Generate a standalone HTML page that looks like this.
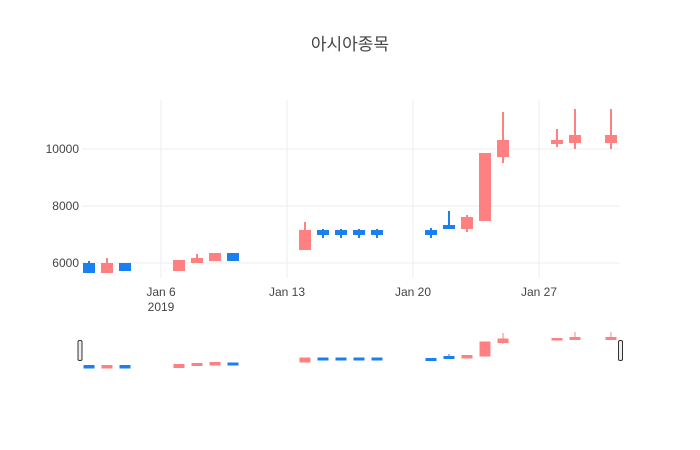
<!DOCTYPE html>
<html><head><meta charset="utf-8"><style>
body{margin:0;background:#fff;}
svg{display:block;font-family:"Liberation Sans","Noto Sans CJK KR",sans-serif;}
</style></head><body>
<svg width="700" height="450" viewBox="0 0 700 450">
<rect width="700" height="450" fill="#fff"/>
<text x="350" y="50" text-anchor="middle" font-size="17" fill="#444">아시아종목</text>
<g stroke="#eee" stroke-width="1">
<line x1="161" y1="100" x2="161" y2="278"/><line x1="287" y1="100" x2="287" y2="278"/>
<line x1="413" y1="100" x2="413" y2="278"/><line x1="539" y1="100" x2="539" y2="278"/>
<line x1="82" y1="263" x2="620" y2="263"/><line x1="82" y1="206" x2="620" y2="206"/>
<line x1="82" y1="149" x2="620" y2="149"/>
</g>
<g font-size="12" fill="#444" text-anchor="end">
<text x="79" y="267">6000</text><text x="79" y="210">8000</text><text x="79" y="153">10000</text>
</g>
<g font-size="12" fill="#444" text-anchor="middle">
<text x="161" y="296">Jan 6</text><text x="161" y="311">2019</text>
<text x="287" y="296">Jan 13</text><text x="413" y="296">Jan 20</text><text x="539" y="296">Jan 27</text>
</g>
<g stroke-width="2">
<!-- main candles -->
<g stroke="#1a7ff0" fill="#1a7ff0">
<line x1="89" y1="261" x2="89" y2="272"/><rect x="84" y="264" width="10" height="8"/>
<line x1="125" y1="264" x2="125" y2="270"/><rect x="120" y="264" width="10" height="6"/>
<line x1="233" y1="253" x2="233" y2="260"/><rect x="228" y="254" width="10" height="6"/>
<line x1="323" y1="229" x2="323" y2="238"/><rect x="318" y="231" width="10" height="3"/>
<line x1="341" y1="229" x2="341" y2="238"/><rect x="336" y="231" width="10" height="3"/>
<line x1="359" y1="229" x2="359" y2="238"/><rect x="354" y="231" width="10" height="3"/>
<line x1="377" y1="229" x2="377" y2="238"/><rect x="372" y="231" width="10" height="3"/>
<line x1="431" y1="228" x2="431" y2="238"/><rect x="426" y="231" width="10" height="3"/>
<line x1="449" y1="211" x2="449" y2="229"/><rect x="444" y="226" width="10" height="2"/>
</g>
<g stroke="#ff8080" fill="#ff8080">
<line x1="107" y1="258" x2="107" y2="273"/><rect x="102" y="264" width="10" height="8"/>
<line x1="179" y1="261" x2="179" y2="270"/><rect x="174" y="261" width="10" height="9"/>
<line x1="197" y1="254" x2="197" y2="262"/><rect x="192" y="259" width="10" height="3"/>
<line x1="215" y1="254" x2="215" y2="260"/><rect x="210" y="254" width="10" height="6"/>
<line x1="305" y1="222" x2="305" y2="249"/><rect x="300" y="231" width="10" height="18"/>
<line x1="467" y1="215" x2="467" y2="232"/><rect x="462" y="218" width="10" height="10"/>
<rect x="480" y="154" width="10" height="66"/>
<line x1="503" y1="112" x2="503" y2="163"/><rect x="498" y="141" width="10" height="15"/>
<line x1="557" y1="129" x2="557" y2="147"/><rect x="552" y="141" width="10" height="2"/>
<line x1="575" y1="109" x2="575" y2="149"/><rect x="570" y="136" width="10" height="6"/>
<line x1="611" y1="109" x2="611" y2="149"/><rect x="606" y="136" width="10" height="6"/>
</g>
</g>
<!-- range slider -->
<g stroke-width="1">
<g stroke="#1a7ff0" fill="#1a7ff0">
<rect x="84" y="365.5" width="10" height="2.5"/>
<rect x="120" y="365.5" width="10" height="2.5"/>
<rect x="228" y="363" width="10" height="2"/>
<rect x="318" y="358" width="10" height="2"/><rect x="336" y="358" width="10" height="2"/>
<rect x="354" y="358" width="10" height="2"/><rect x="372" y="358" width="10" height="2"/>
<rect x="426" y="358.5" width="10" height="2"/>
<line x1="449" y1="354" x2="449" y2="358"/><rect x="444" y="356.5" width="10" height="2"/>
</g>
<g stroke="#ff8080" fill="#ff8080">
<rect x="102" y="365.5" width="10" height="2.5"/>
<rect x="174" y="364.5" width="10" height="3"/>
<rect x="192" y="363.5" width="10" height="2"/>
<rect x="210" y="362.5" width="10" height="2.5"/>
<rect x="300" y="358" width="10" height="4"/>
<rect x="462" y="355.5" width="10" height="2.5"/>
<rect x="480" y="342" width="10" height="14"/>
<line x1="503" y1="333" x2="503" y2="344"/><rect x="498" y="339" width="10" height="3.5"/>
<rect x="552" y="338.5" width="10" height="1.5"/>
<line x1="575" y1="332" x2="575" y2="340"/><rect x="570" y="337.5" width="10" height="2"/>
<line x1="611" y1="332" x2="611" y2="340"/><rect x="606" y="337.5" width="10" height="2"/>
</g>
</g>
<rect x="78" y="340.5" width="4" height="20" rx="1.5" fill="#eee" stroke="#333" stroke-width="1"/>
<rect x="618.5" y="340.5" width="4" height="20" rx="1.5" fill="#eee" stroke="#333" stroke-width="1"/>
</svg>
</body></html>
